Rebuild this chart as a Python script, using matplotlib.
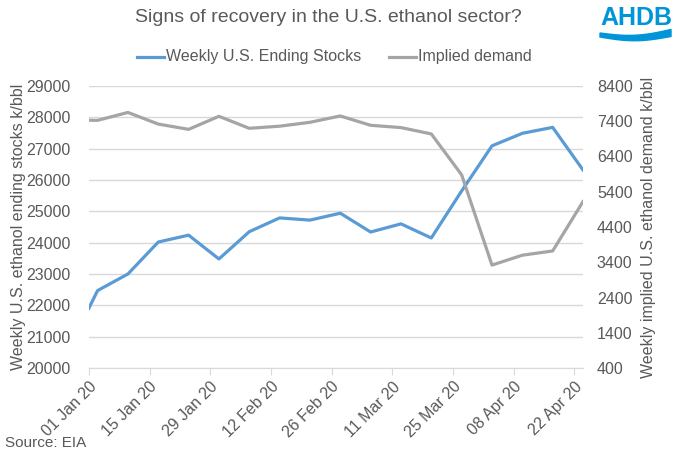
import numpy as np
import pandas as pd
import matplotlib
matplotlib.use("Agg")
import matplotlib.pyplot as plt

plt.rcParams['font.family'] = ['Liberation Sans', 'DejaVu Sans']

# weekly data
dates = pd.to_datetime([
    "2020-01-01", "2020-01-03", "2020-01-10", "2020-01-17", "2020-01-24",
    "2020-01-31", "2020-02-07", "2020-02-14", "2020-02-21", "2020-02-28",
    "2020-03-06", "2020-03-13", "2020-03-20", "2020-03-27", "2020-04-03",
    "2020-04-10", "2020-04-17", "2020-04-24",
])
stocks = [21910, 22470, 23000, 24020, 24240, 23480, 24350, 24790, 24720,
          24940, 24340, 24600, 24150, 25650, 27090, 27490, 27680, 26320]
demand = [7430, 7425, 7650, 7320, 7170, 7540, 7200, 7260, 7370,
          7550, 7285, 7220, 7040, 5880, 3320, 3600, 3720, 5120]

tick_dates = pd.date_range("2020-01-01", "2020-04-22", freq="14D")
tick_labels = ["01 Jan 20", "15 Jan 20", "29 Jan 20", "12 Feb 20", "26 Feb 20",
               "11 Mar 20", "25 Mar 20", "08 Apr 20", "22 Apr 20"]

blue = "#5b9bd5"
grey = "#a5a5a5"
txt = "#595959"
grid = "#d9d9d9"

fig = plt.figure(figsize=(6.73, 4.58), dpi=100)
ax = fig.add_axes([88.9 / 673, 1 - 368 / 458, (583 - 88.9) / 673, (368 - 86) / 458])
ax2 = ax.twinx()

ax.plot(dates, stocks, color=blue, lw=2.3, solid_joinstyle="round", zorder=3)
ax2.plot(dates, demand, color=grey, lw=2.3, solid_joinstyle="round", zorder=3)

ax.set_xlim(pd.Timestamp("2020-01-01"), pd.Timestamp("2020-04-24"))
ax.set_ylim(20000, 29000)
ax.set_yticks(np.arange(20000, 29001, 1000))
ax2.set_ylim(400, 8400)
ax2.set_yticks(np.arange(400, 8401, 1000))

ax.grid(axis="y", color=grid, lw=1)
ax.set_axisbelow(True)
for a in (ax, ax2):
    for s in a.spines.values():
        s.set_visible(False)
ax.spines["bottom"].set_visible(True)
ax.spines["bottom"].set_color(grid)

ax.set_xticks(tick_dates)
ax.set_xticklabels(tick_labels, rotation=45, ha="right", rotation_mode="anchor")
ax.tick_params(axis="x", colors=grid, length=5, labelcolor=txt, labelsize=11.5, pad=3)
ax.tick_params(axis="y", length=0, labelcolor=txt, labelsize=11.5, pad=13)
ax2.tick_params(axis="y", length=0, labelcolor=txt, labelsize=11.5, pad=10)

ax.set_ylabel("Weekly U.S. ethanol ending stocks k/bbl", color=txt, fontsize=11.5, labelpad=0)
ax2.set_ylabel("Weekly implied U.S. ethanol demand k/bbl", color=txt, fontsize=11.5, labelpad=6)

fig.text(328 / 673, 1 - 18 / 458, "Signs of recovery in the U.S. ethanol sector?",
         ha="center", va="center", color=txt, fontsize=14)

# legend
lx, ly = 137 / 673, 1 - 57 / 458
fig.add_artist(plt.Line2D([lx, lx + 27 / 673], [ly, ly], color=blue, lw=2.3))
fig.text(lx + 29 / 673, ly, "Weekly U.S. Ending Stocks", ha="left", va="center",
         color=txt, fontsize=11.5)
gx = 389 / 673
fig.add_artist(plt.Line2D([gx, gx + 27 / 673], [ly, ly], color=grey, lw=2.3))
fig.text(gx + 29 / 673, ly, "Implied demand", ha="left", va="center",
         color=txt, fontsize=11.5)

fig.text(5 / 673, 1 - 443 / 458, "Source: EIA", ha="left", va="center",
         color=txt, fontsize=11)

# AHDB logo
fig.text(636 / 673, 1 - 18 / 458, "AHDB", ha="center", va="center",
         color="#0095d9", fontsize=18, fontweight="bold")
wx = np.linspace(600, 671, 50)
top = 33 + 4 * np.sin((wx - 600) / 71 * np.pi) - (wx - 600) * 0.05
bot = top + 4 + 3 * (wx - 600) / 71
fig.patches.append(plt.Polygon(
    np.column_stack([np.r_[wx, wx[::-1]] / 673, 1 - np.r_[top, bot[::-1]] / 458]),
    closed=True, color="#0095d9", transform=fig.transFigure))

fig.savefig("out.png", dpi=100)
